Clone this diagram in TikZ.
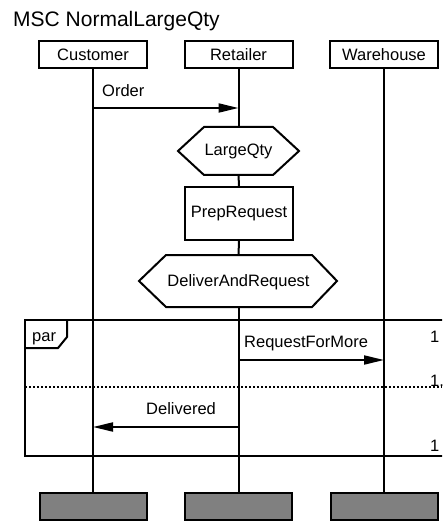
\documentclass[tikz,border=0pt]{standalone}
\usepackage{fontspec}
\setmainfont{Liberation Sans}
\usetikzlibrary{arrows.meta}
\definecolor{endgray}{RGB}{128,128,128}
\begin{document}
\begin{tikzpicture}[x=1pt,y=-1pt,
  lbl/.style={font=\fontsize{16.5}{18}\selectfont, inner sep=0pt},
  obj/.style={draw, line width=2pt, minimum width=108pt, minimum height=27pt, inner sep=0pt, font=\fontsize{16.5}{18}\selectfont},
  endbox/.style={draw, line width=2pt, fill=endgray, minimum width=107pt, minimum height=27pt, inner sep=0pt},
  act/.style={draw, line width=2pt, inner sep=0pt, font=\fontsize{16.5}{18}\selectfont},
  life/.style={line width=2pt},
  msg/.style={line width=2pt, -{Triangle[length=20pt,width=9pt]}},
  frame/.style={line width=2pt}]
\useasboundingbox (0,0) rectangle (442,521);
\clip (0,0) rectangle (442,521);

\node[lbl, font=\fontsize{21}{24}\selectfont, anchor=base west] (title) at (13,27) {MSC NormalLargeQty};

% instance heads
\node[obj] (cust) at (93,54.5) {Customer};
\node[obj] (ret) at (238.5,54.5) {Retailer};
\node[obj] (ware) at (384,54.5) {Warehouse};

% instance ends
\node[endbox] (custend) at (93,506) {};
\node[endbox] (retend) at (238.5,506) {};
\node[endbox] (wareend) at (384,506) {};

% conditions and action
\draw[line width=2pt] (178,151) -- (204,127) -- (273,127) -- (299,151) -- (273,175) -- (204,175) -- cycle;
\node[lbl] (lq) at (238.5,151) {LargeQty};
\coordinate (lqtop) at (238.5,127);
\coordinate (lqbot) at (238.5,175);

\node[act, minimum width=108pt, minimum height=53pt] (prep) at (239,213.5) {PrepRequest};

\draw[line width=2pt] (139,281) -- (166,255) -- (312,255) -- (337,281) -- (312,307) -- (166,307) -- cycle;
\node[lbl] (dar) at (238.5,282) {DeliverAndRequest};
\coordinate (dartop) at (238.5,255);
\coordinate (darbot) at (238.5,307);

% lifelines
\draw[life] (cust.south) -- (custend.north);
\draw[life] (ware.south) -- (wareend.north);
\draw[life] (ret.south) -- (lqtop);
\draw[life] (lqbot) -- (prep.north);
\draw[life] (prep.south) -- (dartop);
\draw[life] (darbot) -- (retend.north);

% Order
\coordinate (o1) at (93,108);
\coordinate (o2) at (238.5,108);
\draw[msg] (o1) -- (o2);
\node[lbl, anchor=base west] (orderlbl) at (102,97) {Order};

% par frame
\draw[frame] (25,320) rectangle (470,456);
\draw[frame] (25,348) -- (58,348) -- (67,337) -- (67,320);
\node[lbl, anchor=base west] (par) at (32,341) {par};
\draw[line width=2pt, dash pattern=on 2pt off 2pt] (25,387) -- (442,387);

\node[lbl, anchor=base west] (n1) at (430,342) {1};
\node[lbl, anchor=base west] (n2) at (430,386) {1.};
\node[lbl, anchor=base west] (n3) at (430,451) {1};

% RequestForMore
\coordinate (r1) at (238.5,360);
\coordinate (r2) at (384,360);
\draw[msg] (r1) -- (r2);
\node[lbl, anchor=base west] (rfm) at (244,347) {RequestForMore};

% Delivered
\coordinate (d1) at (238.5,427);
\coordinate (d2) at (93,427);
\draw[msg] (d1) -- (d2);
\node[lbl, anchor=base west] (dlv) at (146,414) {Delivered};
\end{tikzpicture}
\end{document}
